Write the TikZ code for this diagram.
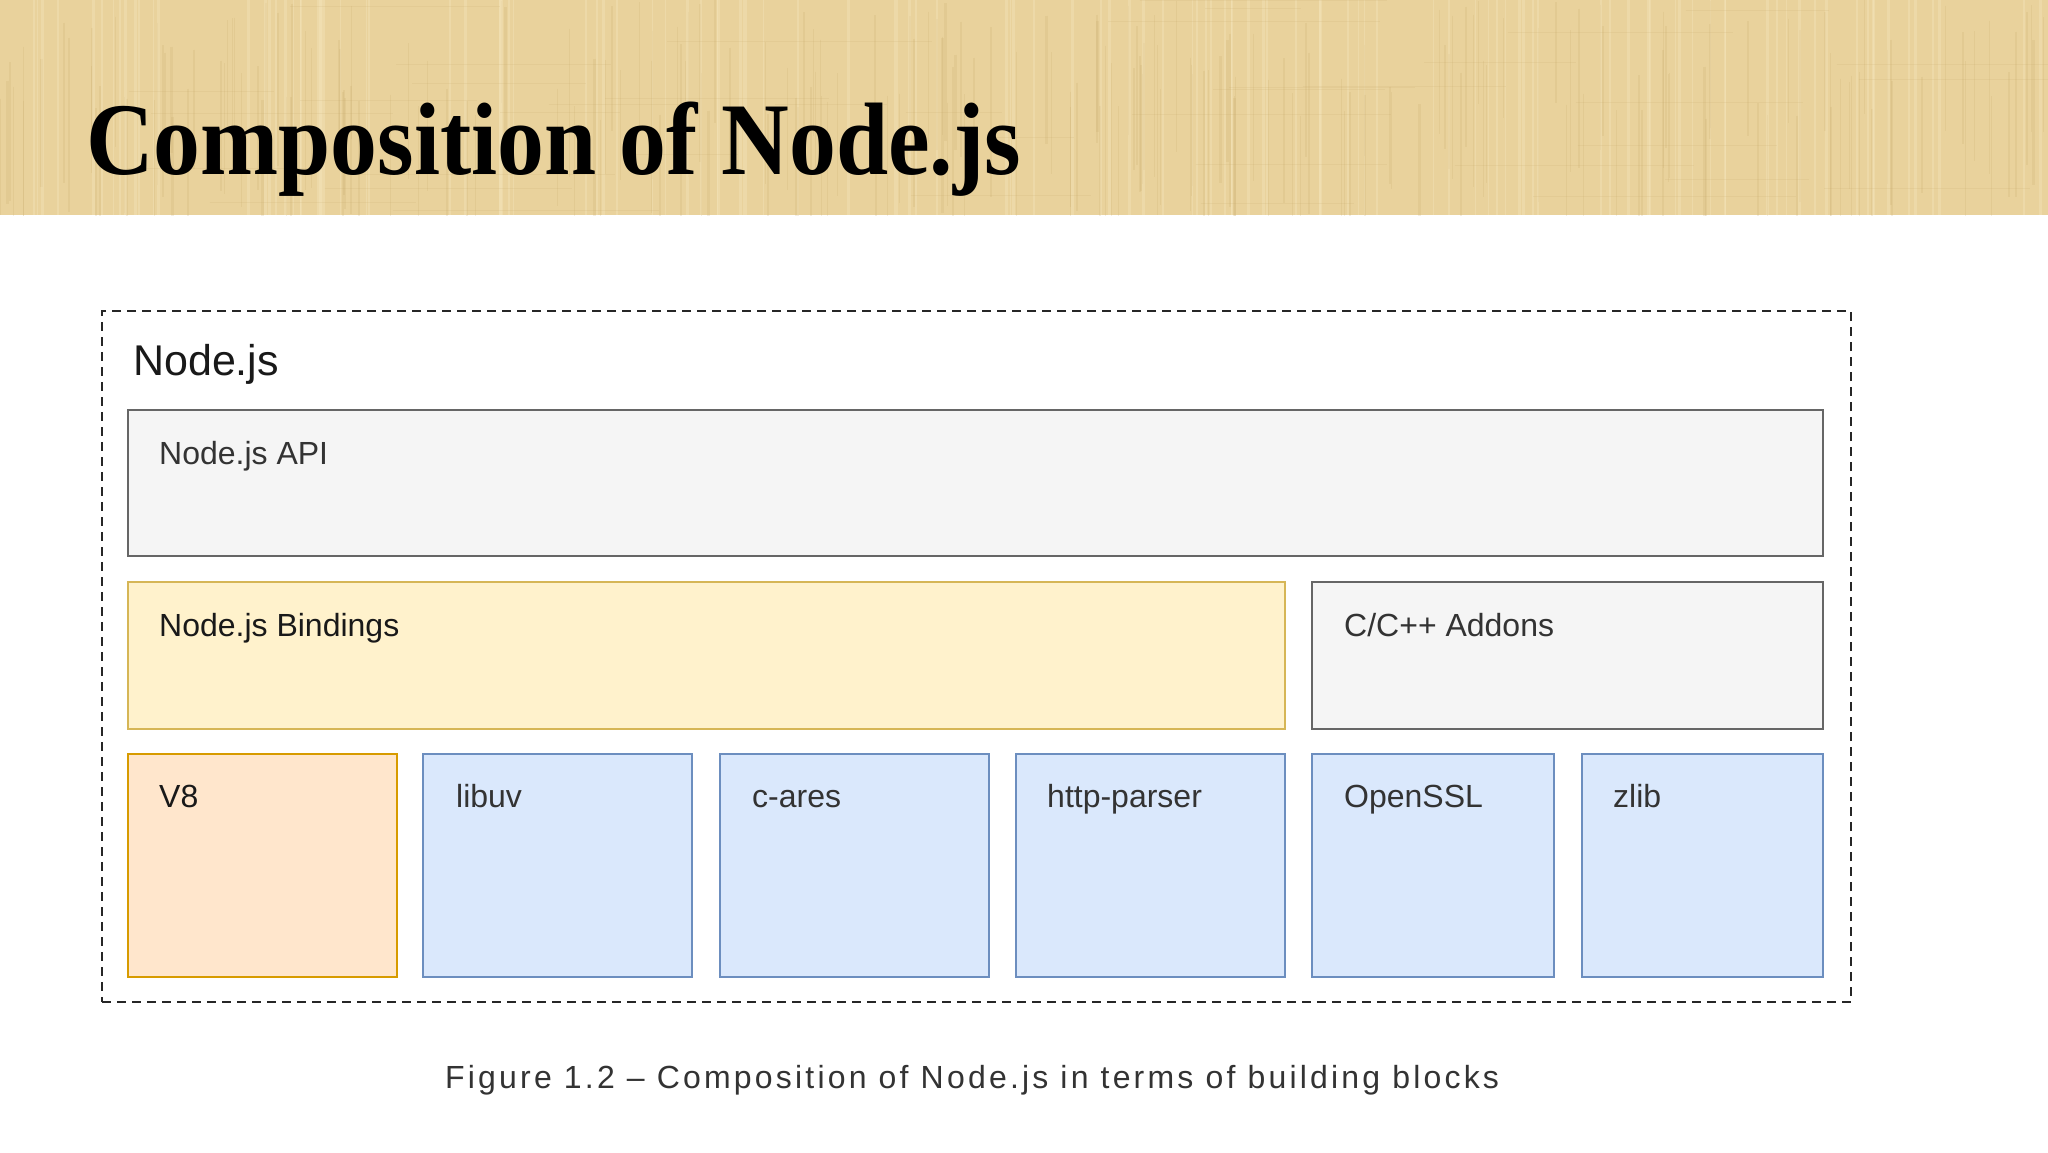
\documentclass[tikz,border=0pt]{standalone}
\usepackage{fontspec}
\setmainfont{Liberation Sans}
\newfontfamily\titlefont{Liberation Serif}
\newfontfamily\capfont[LetterSpace=10]{Liberation Sans}
\definecolor{hdr}{RGB}{233,210,156}
\definecolor{hdrdark}{RGB}{196,166,104}
\definecolor{hdrlight}{RGB}{247,232,192}
\definecolor{apifill}{HTML}{F5F5F5}
\definecolor{apiline}{HTML}{666666}
\definecolor{bindfill}{HTML}{FFF2CC}
\definecolor{bindline}{HTML}{D6B656}
\definecolor{veightfill}{HTML}{FFE6CC}
\definecolor{veightline}{HTML}{D79B00}
\definecolor{libfill}{HTML}{DAE8FC}
\definecolor{libline}{HTML}{6C8EBF}
\definecolor{txt}{HTML}{333333}
\begin{document}
\begin{tikzpicture}[x=1pt,y=-1pt,
  block/.style={draw, line width=2.8pt, anchor=north west, inner sep=0pt, outer sep=0pt},
  greybox/.style={block, draw=apiline, fill=apifill},
  yellowbox/.style={block, draw=bindline, fill=bindfill},
  orangebox/.style={block, draw=veightline, fill=veightfill},
  bluebox/.style={block, draw=libline, fill=libfill},
  outerbox/.style={draw=black!85, line width=2.6pt, dash pattern=on 9pt off 6pt, anchor=north west, inner sep=0pt, outer sep=0pt},
  lbl/.style={anchor=base west, inner sep=0pt, text=txt, font=\fontsize{32}{38}\selectfont}
]
\useasboundingbox (0,0) rectangle (2048,1152);
\fill[white] (0,0) rectangle (2048,1152);
% header band
\fill[hdr] (0,0) rectangle (2048,215);
\begin{scope}
\clip (0,0) rectangle (2048,215);
\pgfmathsetseed{7}
\foreach \i in {1,...,220} {
  \pgfmathsetmacro\xx{rnd*2048}
  \pgfmathsetmacro\ww{0.6+rnd*2.2}
  \pgfmathsetmacro\yy{rnd*120}
  \draw[line width=\ww pt, draw=hdrdark, opacity=0.18] (\xx,\yy) -- (\xx,\yy+95+rnd*80);
}
\foreach \i in {1,...,120} {
  \pgfmathsetmacro\xx{rnd*2048}
  \pgfmathsetmacro\ww{0.8+rnd*2.5}
  \draw[line width=\ww pt, draw=hdrlight, opacity=0.35] (\xx,0) -- (\xx,215);
}
\foreach \i in {1,...,40} {
  \pgfmathsetmacro\yy{rnd*215}
  \pgfmathsetmacro\xx{rnd*1900}
  \draw[line width=1pt, draw=hdrdark, opacity=0.15] (\xx,\yy) -- (\xx+80+rnd*200,\yy);
}
\end{scope}
\node[anchor=base west, inner sep=0pt] (title) at (86,174)
  {\scalebox{0.91}[1]{\titlefont\bfseries\fontsize{103}{110}\selectfont Composition of Node.js}};
% outer container
\node[outerbox, minimum width=1749pt, minimum height=691pt] (nodejs) at (102,311) {};
\node[anchor=base west, inner sep=0pt, text=black!90, font=\fontsize{43}{50}\selectfont] (nodejslbl) at (133,375) {Node.js};
% blocks
\node[greybox, minimum width=1695pt, minimum height=146pt] (api) at (128,410) {};
\node[yellowbox, minimum width=1157pt, minimum height=147pt] (bind) at (128,582) {};
\node[greybox, minimum width=511pt, minimum height=147pt] (addons) at (1312,582) {};
\node[orangebox, minimum width=269pt, minimum height=223pt] (veight) at (128,754) {};
\node[bluebox, minimum width=269pt, minimum height=223pt] (libuv) at (423,754) {};
\node[bluebox, minimum width=269pt, minimum height=223pt] (cares) at (720,754) {};
\node[bluebox, minimum width=269pt, minimum height=223pt] (http) at (1016,754) {};
\node[bluebox, minimum width=242pt, minimum height=223pt] (ssl) at (1312,754) {};
\node[bluebox, minimum width=241pt, minimum height=223pt] (zlib) at (1582,754) {};
% labels
\node[lbl] (apil) at ([xshift=31pt,yshift=-54pt]api.north west) {Node.js API};
\node[lbl, text=black!90] (bindl) at ([xshift=31pt,yshift=-54pt]bind.north west) {Node.js Bindings};
\node[lbl] (addonsl) at ([xshift=32pt,yshift=-54pt]addons.north west) {C/C++ Addons};
\node[lbl, text=black!90] (veightl) at ([xshift=31pt,yshift=-53pt]veight.north west) {V8};
\node[lbl] (libuvl) at ([xshift=33pt,yshift=-53pt]libuv.north west) {libuv};
\node[lbl] (caresl) at ([xshift=32pt,yshift=-53pt]cares.north west) {c-ares};
\node[lbl] (httpl) at ([xshift=31pt,yshift=-53pt]http.north west) {http-parser};
\node[lbl] (ssll) at ([xshift=32pt,yshift=-53pt]ssl.north west) {OpenSSL};
\node[lbl] (zlibl) at ([xshift=31pt,yshift=-53pt]zlib.north west) {zlib};
% caption
\node[anchor=base west, inner sep=0pt, text=txt] (caption) at (445,1088)
  {\capfont\fontsize{32}{38}\selectfont Figure 1.2 – Composition of Node.js in terms of building blocks};
\end{tikzpicture}
\end{document}
